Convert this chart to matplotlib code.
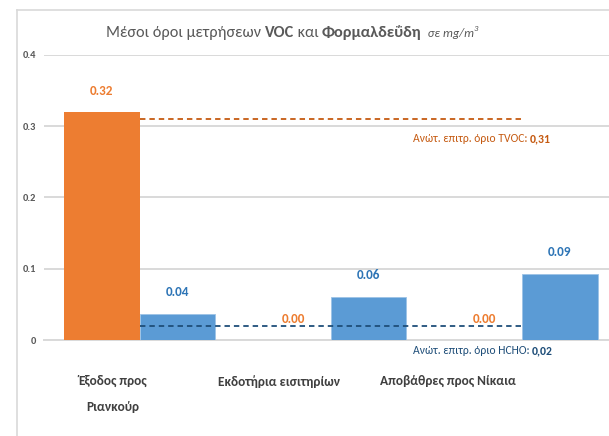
import matplotlib
matplotlib.use("Agg")
import matplotlib.pyplot as plt
import numpy as np
from matplotlib import font_manager
from matplotlib.lines import Line2D

# Data
categories = ["Έξοδος προς\nΡιανκούρ", "Εκδοτήρια εισιτηρίων", "Αποβάθρες προς Νίκαια"]
voc = [0.32, 0.0, 0.0]
hcho = [0.036, 0.06, 0.093]
tvoc_limit = 0.31
hcho_limit = 0.02
yticks = [0, 0.1, 0.2, 0.3, 0.4]
ytick_labels = ["0", "0.1", "0.2", "0.3", "0.4"]

# Fonts: prefer a narrow face, like the original
names = {f.name for f in font_manager.fontManager.ttflist}
FONT = next((n for n in ["Liberation Sans Narrow", "Carlito", "Roboto Condensed", "Roboto"]
             if n in names), "Liberation Sans")
plt.rcParams["font.family"] = [FONT, "DejaVu Sans"]

ORANGE = "#ED7D31"
BLUE = "#5B9BD5"
ORANGE_DARK = "#C55A11"
BLUE_DARK = "#1F4E79"
GRID = "#D9D9D9"
TEXT = "#595959"

W, H = 609, 436
fig = plt.figure(figsize=(W / 100, H / 100), dpi=100)
ax = fig.add_axes([44 / W, 96 / H, 1 - 44 / W, (340 - 55) / H])

x = np.arange(len(categories))
bw = 0.395
ax.bar(x - bw / 2, voc, bw, color=ORANGE, zorder=3)
ax.bar(x + bw / 2, hcho, bw, color=BLUE, edgecolor="#9DC3E6", linewidth=0.6, zorder=3)

# data labels
for xi, v in zip(x - bw / 2, voc):
    ax.annotate(f"{v:.2f}", (xi, v), xytext=(0, 15), textcoords="offset points",
                ha="center", va="center", color=ORANGE, fontsize=9.5, fontweight="bold", zorder=5)
for xi, v in zip(x + bw / 2, hcho):
    ax.annotate(f"{v:.2f}", (xi, v), xytext=(0, 16), textcoords="offset points",
                ha="center", va="center", color="#2E75B6", fontsize=9.5, fontweight="bold", zorder=5)

# limit lines
ax.plot([x[0], x[-1]], [tvoc_limit, tvoc_limit], color=ORANGE_DARK, ls=(0, (3, 2.2)), lw=1.3, zorder=4)
ax.plot([x[0], x[-1]], [hcho_limit, hcho_limit], color=BLUE_DARK, ls=(0, (3, 2.2)), lw=1.3, zorder=4)

ax.set_xlim(-0.5, (609 - 139) / 191.5)
ax.set_ylim(0, 0.4)
ax.set_yticks(yticks)
ax.set_yticklabels(ytick_labels, fontsize=7.5, color=TEXT, fontweight="bold")
label_shift = [-0.14, -0.27, -0.39]
ax.set_xticks(x + np.array(label_shift))
ax.set_xticklabels(categories, fontsize=9.6, color="#404040", fontweight="bold", linespacing=2.45, va="top")
ax.tick_params(axis="x", length=0, pad=25)
ax.tick_params(axis="y", length=0, pad=6)
ax.grid(axis="y", color=GRID, lw=1.4, zorder=0)
for s in ["top", "right", "left"]:
    ax.spines[s].set_visible(False)
ax.spines["bottom"].set_color(GRID)
ax.spines["bottom"].set_linewidth(1.4)

# chart border (top and left visible)
fig.add_artist(Line2D([17 / W, 1], [1 - 10 / H, 1 - 10 / H], color=GRID, lw=1.2))
fig.add_artist(Line2D([17 / W, 17 / W], [0, 1 - 10 / H], color=GRID, lw=1.2))


def text_row(pieces, x, y, center=False, color=TEXT):
    """Lay styled text pieces along one baseline; x, y in pixels from the top-left."""
    objs = []
    for txt, kw in pieces:
        objs.append(fig.text(0, 0, txt, color=color, ha="left", va="baseline", **kw))
    fig.canvas.draw()
    r = fig.canvas.get_renderer()
    widths = [o.get_window_extent(r).width for o in objs]
    xpos = x - sum(widths) / 2 if center else x
    for o, w in zip(objs, widths):
        o.set_position((xpos / W, (H - y) / H))
        xpos += w
    return objs


title_sz = 11.7
title = text_row([("Μέσοι όροι μετρήσεων ", dict(fontsize=title_sz)),
                  ("VOC", dict(fontsize=title_sz, fontweight="bold")),
                  (" και ", dict(fontsize=title_sz)),
                  ("Φορμαλδεΰδη", dict(fontsize=title_sz, fontweight="bold")),
                  ("  σε mg/m", dict(fontsize=9, fontstyle="italic")),
                  ("3", dict(fontsize=6.3, fontstyle="italic"))], 292, 37, center=True)
# superscript
title[-1].set_y(title[-1].get_position()[1] + 6 / H)

lim_sz = 8.4
text_row([("Ανώτ. επιτρ. όριο TVOC: ", dict(fontsize=lim_sz)),
          (f"{tvoc_limit:.2f}".replace(".", ","), dict(fontsize=lim_sz, fontweight="bold"))],
         413, 142, color=ORANGE_DARK)
text_row([("Ανώτ. επιτρ. όριο HCHO: ", dict(fontsize=lim_sz)),
          (f"{hcho_limit:.2f}".replace(".", ","), dict(fontsize=lim_sz, fontweight="bold"))],
         413, 354, color=BLUE_DARK)

fig.savefig("out.png", dpi=100, facecolor="white")
